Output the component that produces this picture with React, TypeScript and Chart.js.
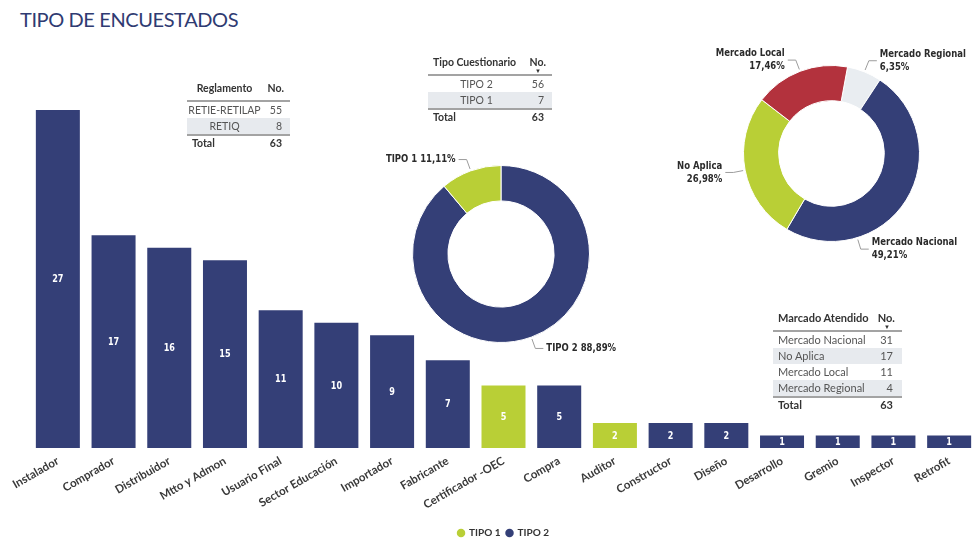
import React, { useEffect, useRef } from 'react';
import { Chart, registerables } from 'chart.js';

Chart.register(...registerables);

// ---------- data ----------
const categories = [
  'Instalador', 'Comprador', 'Distribuidor', 'Mtto y Admon', 'Usuario Final',
  'Sector Educación', 'Importador', 'Fabricante', 'Certificador -OEC', 'Compra',
  'Auditor', 'Constructor', 'Diseño', 'Desarrollo', 'Gremio', 'Inspector', 'Retrofit',
];
const tipo1Values = [null, null, null, null, null, null, null, null, 5, null, 2, null, null, null, null, null, null];
const tipo2Values = [27, 17, 16, 15, 11, 10, 9, 7, null, 5, null, 2, 2, 1, 1, 1, 1];
const seriesNames = ['TIPO 1', 'TIPO 2'];

const cuestionarioLabels = ['TIPO 2', 'TIPO 1'];
const cuestionarioValues = [56, 7];

const mercadoLabels = ['Mercado Regional', 'Mercado Nacional', 'No Aplica', 'Mercado Local'];
const mercadoValues = [4, 31, 17, 11];

const reglamentoLabels = ['RETIE-RETILAP', 'RETIQ'];
const reglamentoValues = [55, 8];

const tablaMercadoLabels = ['Mercado Nacional', 'No Aplica', 'Mercado Local', 'Mercado Regional'];
const tablaMercadoValues = [31, 17, 11, 4];

// ---------- styles ----------
const NAVY = '#343f77';
const GREEN = '#b9cf36';
const RED = '#b3323d';
const LIGHT = '#e9edf1';
const LABEL_FONT = '"DejaVu Sans Condensed", "DejaVu Sans", sans-serif';
const TABLE_FONT = 'Lato, "Open Sans", sans-serif';

const pct = (v: number, total: number) => ((v / total) * 100).toFixed(2).replace('.', ',') + '%';
const sum = (a: number[]) => a.reduce((s, v) => s + v, 0);

// draws horizontally condensed text
function narrowText(ctx: CanvasRenderingContext2D, t: string, x: number, y: number, sx: number) {
  ctx.save();
  ctx.translate(x, y);
  ctx.scale(sx, 1);
  ctx.fillText(t, 0, 0);
  ctx.restore();
}

// value labels inside bars
const barValuePlugin = {
  id: 'barValues',
  afterDatasetsDraw(chart: any) {
    const ctx = chart.ctx;
    ctx.save();
    ctx.fillStyle = '#ffffff';
    ctx.font = 'bold 10px ' + LABEL_FONT;
    ctx.textAlign = 'center';
    ctx.textBaseline = 'middle';
    chart.data.datasets.forEach((ds: any, di: number) => {
      const meta = chart.getDatasetMeta(di);
      meta.data.forEach((el: any, i: number) => {
        const v = ds.data[i];
        if (v == null) return;
        const { x, y, base } = el.getProps(['x', 'y', 'base'], true);
        narrowText(ctx, String(v), x, (y + base) / 2 + 0.5, 0.9);
      });
    });
    ctx.restore();
  },
};

// outside labels with leader lines for doughnuts
const leaderPlugin = {
  id: 'leaders',
  afterDraw(chart: any, _args: any, opts: any) {
    const ctx = chart.ctx;
    const meta = chart.getDatasetMeta(0);
    const texts: string[][] = opts.texts || [];
    const angles: (number | null)[] = opts.angles || [];
    const len = opts.len ?? 12;
    const hlen = opts.hlen ?? 8;
    const lh = opts.lineHeight ?? 13;
    ctx.save();
    meta.data.forEach((arc: any, i: number) => {
      const { x, y, outerRadius, startAngle, endAngle } = arc.getProps(
        ['x', 'y', 'outerRadius', 'startAngle', 'endAngle'], true);
      const a = angles[i] != null ? ((angles[i] as number) - 90) * Math.PI / 180 : (startAngle + endAngle) / 2;
      const c = Math.cos(a), s = Math.sin(a);
      const ax = x + c * (outerRadius + 2), ay = y + s * (outerRadius + 2);
      const bx = x + c * (outerRadius + len), by = y + s * (outerRadius + len);
      const dir = c >= 0 ? 1 : -1;
      const cx = bx + dir * hlen;
      ctx.strokeStyle = '#9c9c9c';
      ctx.lineWidth = 1;
      ctx.beginPath();
      ctx.moveTo(ax, ay);
      ctx.lineTo(bx, by);
      ctx.lineTo(cx, by);
      ctx.stroke();
      ctx.fillStyle = '#2b2b2b';
      ctx.font = 'bold 11px ' + LABEL_FONT;
      ctx.textAlign = dir > 0 ? 'left' : 'right';
      ctx.textBaseline = 'middle';
      const lines = texts[i] || [];
      const y0 = by - ((lines.length - 1) * lh) / 2;
      lines.forEach((t, k) => narrowText(ctx, t, cx + dir * 3, y0 + k * lh, 0.86));
    });
    ctx.restore();
  },
};

function BarChart() {
  const ref = useRef<HTMLCanvasElement>(null);
  useEffect(() => {
    const chart = new Chart(ref.current as HTMLCanvasElement, {
      type: 'bar',
      data: {
        labels: categories,
        datasets: [
          { label: seriesNames[0], data: tipo1Values as any, backgroundColor: GREEN, barPercentage: 0.79, categoryPercentage: 1 },
          { label: seriesNames[1], data: tipo2Values as any, backgroundColor: NAVY, barPercentage: 0.79, categoryPercentage: 1 },
        ],
      },
      options: {
        responsive: false,
        animation: false,
        layout: { padding: { left: 30, right: 0, top: 10, bottom: 4 } },
        scales: {
          x: {
            stacked: true,
            grid: { display: false, drawTicks: false },
            border: { display: false },
            ticks: {
              autoSkip: false,
              minRotation: 30,
              maxRotation: 30,
              padding: 6,
              color: '#3a3a3a',
              font: { family: 'Lato', size: 11.5, weight: 'bold' },
            },
            afterFit: (s: any) => {
              s.paddingLeft = 0;
              s.paddingRight = 0;
              s.height = 74;
            },
          },
          y: { stacked: true, display: false, min: 0, max: 27 },
        },
        plugins: {
          legend: {
            position: 'bottom',
            labels: {
              usePointStyle: true,
              pointStyle: 'circle',
              boxWidth: 6,
              boxHeight: 6,
              padding: 6,
              color: '#333333',
              font: { family: 'Lato', size: 10, weight: 'bold' },
            },
          },
          tooltip: { enabled: false },
        },
      } as any,
      plugins: [barValuePlugin],
    });
    return () => chart.destroy();
  }, []);
  return (
    <canvas ref={ref} width={977} height={452}
      style={{ position: 'absolute', left: 0, top: 100, width: 977, height: 452 }} />
  );
}

function TipoDonut() {
  const ref = useRef<HTMLCanvasElement>(null);
  useEffect(() => {
    const total = sum(cuestionarioValues);
    const chart = new Chart(ref.current as HTMLCanvasElement, {
      type: 'doughnut',
      data: {
        labels: cuestionarioLabels,
        datasets: [{ data: cuestionarioValues, backgroundColor: [NAVY, GREEN], borderColor: '#ffffff', borderWidth: 1 }],
      },
      options: {
        responsive: false,
        animation: false,
        cutout: '60%',
        rotation: 0,
        layout: { padding: { left: 42, right: 60, top: 20, bottom: 17 } },
        plugins: {
          legend: { display: false },
          tooltip: { enabled: false },
          leaders: {
            texts: cuestionarioLabels.map((l, i) => [l + ' ' + pct(cuestionarioValues[i], total)]),
            angles: [160, null],
            len: 12,
            hlen: 8,
          },
        },
      } as any,
      plugins: [leaderPlugin],
    });
    return () => chart.destroy();
  }, []);
  return (
    <canvas ref={ref} width={280} height={215}
      style={{ position: 'absolute', left: 370, top: 145, width: 280, height: 215 }} />
  );
}

function MercadoDonut() {
  const ref = useRef<HTMLCanvasElement>(null);
  useEffect(() => {
    const total = sum(mercadoValues);
    const chart = new Chart(ref.current as HTMLCanvasElement, {
      type: 'doughnut',
      data: {
        labels: mercadoLabels,
        datasets: [{ data: mercadoValues, backgroundColor: [LIGHT, NAVY, GREEN, RED], borderColor: '#ffffff', borderWidth: 1 }],
      },
      options: {
        responsive: false,
        animation: false,
        cutout: '60%',
        rotation: 10.5,
        layout: { padding: { left: 83, right: 52, top: 25, bottom: 28 } },
        plugins: {
          legend: { display: false },
          tooltip: { enabled: false },
          leaders: {
            texts: mercadoLabels.map((l, i) => [l, pct(mercadoValues[i], total)]),
            angles: [null, 163, null, null],
            len: 12,
            hlen: 8,
            lineHeight: 13,
          },
        },
      } as any,
      plugins: [leaderPlugin],
    });
    return () => chart.destroy();
  }, []);
  return (
    <canvas ref={ref} width={312} height={230}
      style={{ position: 'absolute', left: 660, top: 40, width: 312, height: 230 }} />
  );
}

type TableProps = {
  left: number; top: number; width: number; labelCol: number;
  header: string; headerAlign: 'left' | 'center'; labelAlign: 'left' | 'center';
  labels: string[]; values: number[]; fontSize: number; numPad: number; arrow: boolean;
};

function DataTable(p: TableProps) {
  const total = sum(p.values);
  const line = '2px solid #a3a3a3';
  return (
    <div style={{
      position: 'absolute', left: p.left, top: p.top, width: p.width,
      fontFamily: TABLE_FONT, fontSize: p.fontSize, color: '#555555', zIndex: 2,
    }}>
      <div style={{ display: 'flex', height: 22, lineHeight: '20px', borderBottom: line, fontWeight: 700, color: '#333333' }}>
        <div style={{ width: p.labelCol, textAlign: p.headerAlign, paddingLeft: p.headerAlign === 'left' ? 5 : 0, boxSizing: 'border-box' }}>{p.header}</div>
        <div style={{ flex: 1, textAlign: 'right', paddingRight: p.numPad - 2, position: 'relative' }}>
          No.
          {p.arrow && (
            <span style={{ position: 'absolute', right: p.numPad + 3, top: 15, fontSize: 6, lineHeight: '7px', color: '#333' }}>▼</span>
          )}
        </div>
      </div>
      {p.labels.map((l, i) => (
        <div key={l} style={{ display: 'flex', height: 16, lineHeight: '16px', background: i % 2 === 1 ? '#e7eaee' : 'transparent' }}>
          <div style={{ width: p.labelCol, textAlign: p.labelAlign, paddingLeft: p.labelAlign === 'left' ? 5 : 0, boxSizing: 'border-box', whiteSpace: 'nowrap' }}>{l}</div>
          <div style={{ flex: 1, textAlign: 'right', paddingRight: p.numPad }}>{p.values[i]}</div>
        </div>
      ))}
      <div style={{ display: 'flex', height: 16, lineHeight: '14px', borderTop: line, fontWeight: 700, color: '#333333' }}>
        <div style={{ width: p.labelCol, paddingLeft: 5, boxSizing: 'border-box' }}>Total</div>
        <div style={{ flex: 1, textAlign: 'right', paddingRight: p.numPad }}>{total}</div>
      </div>
    </div>
  );
}

export default function App() {
  return (
    <div style={{ position: 'fixed', left: 0, top: 0, width: 972, height: 542, overflow: 'hidden', background: '#ffffff' }}>
      <div style={{
        position: 'absolute', left: 20, top: 7, fontFamily: 'Lato, "Open Sans", sans-serif',
        fontSize: 20, color: '#2f3b72', whiteSpace: 'nowrap', letterSpacing: -0.4,
      }}>TIPO DE ENCUESTADOS</div>
      <BarChart />
      <TipoDonut />
      <MercadoDonut />
      <DataTable left={187} top={78} width={103} labelCol={75} header="Reglamento" headerAlign="center" labelAlign="center"
        labels={reglamentoLabels} values={reglamentoValues} fontSize={10.5} numPad={8} arrow={false} />
      <DataTable left={428} top={52} width={124} labelCol={97} header="Tipo Cuestionario" headerAlign="left" labelAlign="center"
        labels={cuestionarioLabels} values={cuestionarioValues} fontSize={10.5} numPad={8} arrow={true} />
      <DataTable left={773} top={308} width={129} labelCol={99} header="Marcado Atendido" headerAlign="left" labelAlign="left"
        labels={tablaMercadoLabels} values={tablaMercadoValues} fontSize={11} numPad={9} arrow={true} />
    </div>
  );
}
